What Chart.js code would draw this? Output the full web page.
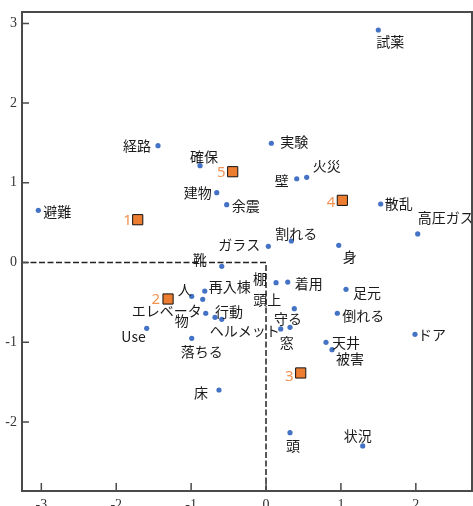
<!DOCTYPE html>
<html>
<head>
<meta charset="utf-8">
<script src="https://cdn.jsdelivr.net/npm/chart.js@4"></script>
<style>
  html, body { margin: 0; padding: 0; background: #fff; }
  canvas { display: block; }
</style>
</head>
<body>
<canvas id="mapChart" width="473" height="506"></canvas>
<script>
// words and their coordinates on the two dimensions
const words = ['避難', '経路', '確保', '建物', '余震', '試薬', '実験', '壁', '火災', '散乱',
  '高圧ガス', '割れる', 'ガラス', '身', '棚', '着用', '足元', '頭上', '守る', '窓',
  'ドア', '倒れる', '天井', '被害', '床', '頭', '状況', '靴', '人', '再入棟',
  'エレベータ', '物', '行動', 'ヘルメット', 'Use', '落ちる'];
const wordX = [-3.04, -1.442, -0.881, -0.658, -0.525, 1.499, 0.071, 0.410, 0.543, 1.531,
  2.025, 0.338, 0.031, 0.971, 0.134, 0.290, 1.068, 0.378, 0.320, 0.196,
  1.989, 0.952, 0.801, 0.881, -0.628, 0.320, 1.291, -0.591, -0.992, -0.818,
  -0.845, -0.805, -0.681, -0.591, -1.593, -0.992];
const wordY = [0.655, 1.466, 1.215, 0.876, 0.725, 2.917, 1.496, 1.051, 1.069, 0.734,
  0.358, 0.270, 0.203, 0.216, -0.253, -0.245, -0.336, -0.580, -0.813, -0.834,
  -0.901, -0.637, -1.001, -1.094, -1.600, -2.135, -2.302, -0.048, -0.424, -0.358,
  -0.462, -0.637, -0.688, -0.713, -0.826, -0.951];

// cluster centres
const groups = ['1', '2', '3', '4', '5'];
const groupX = [-1.713, -1.308, 0.463, 1.019, -0.445];
const groupY = [0.537, -0.458, -1.386, 0.780, 1.139];

const xTicks = [-3, -2, -1, 0, 1, 2];
const yTicks = [-2, -1, 0, 1, 2, 3];

// where each word label sits next to its dot: [align, dx, dy]
const wordPlace = [
  ['left', 5, 1], ['right', -7, 0], ['center', 4, -9], ['right', -5, 0], ['left', 5, 1],
  ['left', -2, 12], ['left', 9, -2], ['right', -8, 2], ['left', 6, -12], ['left', 4, 0],
  ['left', 0, -16], ['center', 5, -7], ['right', -8, -2], ['left', 4, 11], ['right', -9, -4],
  ['left', 7, 2], ['left', 7, 3], ['right', -13, -9], ['center', -2, -9], ['center', 6, 14],
  ['left', 3, 0], ['left', 5, 2], ['left', 6, 0], ['left', 4, 9], ['right', -11, 3],
  ['center', 3, 13], ['center', -5, -10], ['right', -15, -7], ['right', 0, -7], ['left', 4, -4],
  ['right', -1, 11], ['right', -17, 7], ['left', 0, -6], ['left', -12, 11], ['right', -1, 8],
  ['left', -11, 13]
];
const groupPlace = [[-6, 1], [-8, 1], [-7, 4], [-7, 2], [-7, 1]];

const frameAndLabels = {
  id: 'frameAndLabels',
  beforeDatasetsDraw(chart) {
    const { ctx, chartArea: a, scales } = chart;
    const x0 = scales.x.getPixelForValue(0);
    const y0 = scales.y.getPixelForValue(0);
    ctx.save();
    ctx.strokeStyle = '#222';
    ctx.lineWidth = 1.5;
    ctx.setLineDash([6, 2.5]);
    ctx.beginPath();
    ctx.moveTo(a.left, y0);
    ctx.lineTo(x0, y0);
    ctx.lineTo(x0, a.bottom);
    ctx.stroke();
    ctx.restore();
  },
  afterDatasetsDraw(chart) {
    const { ctx, chartArea: a, scales } = chart;
    ctx.save();
    ctx.textBaseline = 'middle';
    ctx.font = '14px "Noto Sans CJK JP", sans-serif';
    ctx.fillStyle = '#1a1a1a';
    chart.getDatasetMeta(0).data.forEach((pt, i) => {
      const [align, dx, dy] = wordPlace[i];
      ctx.textAlign = align;
      ctx.fillText(words[i], pt.x + dx, pt.y + dy);
    });
    ctx.font = '15px "Noto Sans", sans-serif';
    ctx.fillStyle = '#f29354';
    ctx.textAlign = 'right';
    chart.getDatasetMeta(1).data.forEach((pt, i) => {
      const [dx, dy] = groupPlace[i];
      ctx.fillText(groups[i], pt.x + dx, pt.y + dy);
    });

    // box and inward tick marks
    ctx.strokeStyle = '#4a4a4a';
    ctx.lineWidth = 2;
    ctx.strokeRect(a.left, a.top, a.right - a.left, a.bottom - a.top);
    ctx.lineWidth = 1.5;
    ctx.beginPath();
    xTicks.forEach(v => {
      const px = scales.x.getPixelForValue(v);
      ctx.moveTo(px, a.bottom);
      ctx.lineTo(px, a.bottom - 8);
    });
    yTicks.forEach(v => {
      const py = scales.y.getPixelForValue(v);
      ctx.moveTo(a.left, py);
      ctx.lineTo(a.left + 7, py);
    });
    ctx.stroke();
    ctx.restore();
  }
};

const tickFont = { family: '"Liberation Serif", serif', size: 14 };

new Chart(document.getElementById('mapChart').getContext('2d'), {
  type: 'scatter',
  data: {
    datasets: [{
      data: words.map((w, i) => ({ x: wordX[i], y: wordY[i] })),
      backgroundColor: '#4472c4',
      borderColor: '#4472c4',
      pointRadius: 2.6,
      borderWidth: 0
    }, {
      data: groups.map((g, i) => ({ x: groupX[i], y: groupY[i] })),
      pointStyle: 'rect',
      pointRadius: 7.2,
      backgroundColor: '#ed7d31',
      borderColor: '#111',
      borderWidth: 1
    }]
  },
  options: {
    responsive: false,
    animation: false,
    layout: { autoPadding: false, padding: { top: 12, right: 1, left: 0, bottom: 0 } },
    plugins: { legend: { display: false }, tooltip: { enabled: false } },
    scales: {
      x: {
        min: -3.258,
        max: 2.75,
        grid: { display: false, drawTicks: false },
        border: { display: false },
        afterBuildTicks: s => { s.ticks = xTicks.map(v => ({ value: v })); },
        afterFit: s => { s.height = 15; s.paddingLeft = 0; s.paddingRight = 0; },
        ticks: { font: tickFont, color: '#333', padding: 6, maxRotation: 0, autoSkip: false }
      },
      y: {
        min: -2.867,
        max: 3.143,
        grid: { display: false, drawTicks: false },
        border: { display: false },
        afterBuildTicks: s => { s.ticks = yTicks.map(v => ({ value: v })); },
        afterFit: s => { s.width = 22; s.paddingTop = 0; s.paddingBottom = 0; },
        ticks: { font: tickFont, color: '#333', padding: 5, autoSkip: false }
      }
    }
  },
  plugins: [frameAndLabels]
});
</script>
</body>
</html>
